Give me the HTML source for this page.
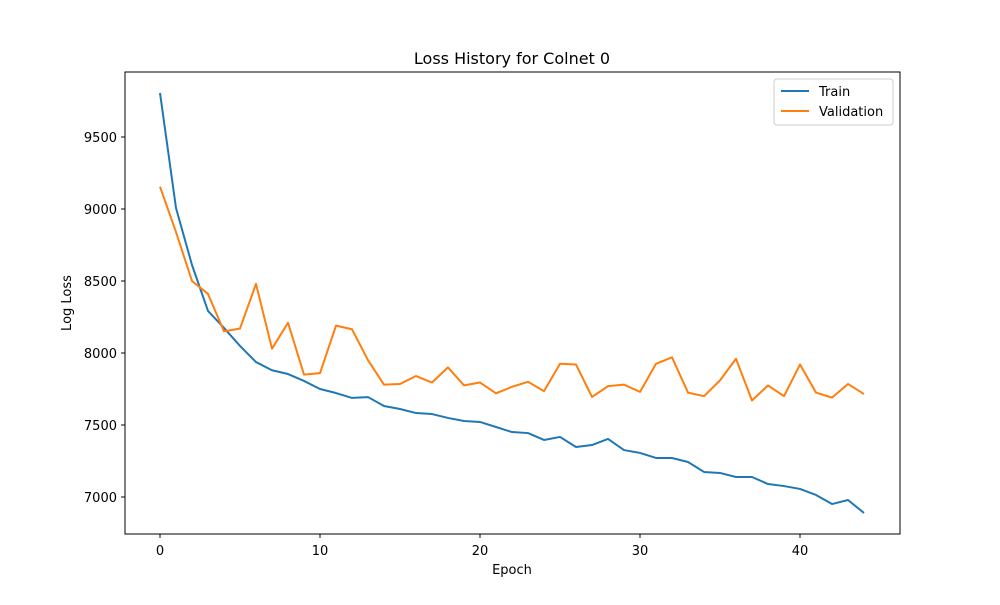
<!DOCTYPE html>
<html><head><meta charset="utf-8"><style>
body{margin:0;background:#fff;font-family:"Liberation Sans","DejaVu Sans",sans-serif}
svg text{font-family:"DejaVu Sans","Liberation Sans",sans-serif;font-size:13px;fill:#000}
</style></head><body>
<svg id="chart" width="1000" height="600" xmlns="http://www.w3.org/2000/svg">
<rect width="1000" height="600" fill="#fff"/>
<text x="512" y="64" text-anchor="middle" style="font-size:16px">Loss History for Colnet 0</text>
<g id="grid"></g>
<g id="plot"></g>
<rect x="125" y="72" width="775" height="462" fill="none" stroke="#000" stroke-width="1"/>
<text x="512" y="574" text-anchor="middle">Epoch</text>
<text x="0" y="0" transform="translate(71,303) rotate(-90)" text-anchor="middle">Log Loss</text>
<g>
<rect x="774" y="79" width="119" height="46" fill="#fff" stroke="#ccc" rx="3"/>
<line x1="781" y1="91" x2="809" y2="91" stroke="#1f77b4" stroke-width="2"/>
<text x="819" y="96">Train</text>
<line x1="781" y1="111" x2="809" y2="111" stroke="#ff7f0e" stroke-width="2"/>
<text x="819" y="116">Validation</text>
</g>
</svg>
<script>
const trainLoss=[9806,9007,8611,8292,8174,8049,7937,7880,7854,7806,7750,7722,7688,7694,7632,7611,7583,7576,7549,7528,7521,7486,7451,7444,7396,7417,7347,7361,7403,7326,7306,7271,7271,7243,7174,7167,7139,7139,7090,7076,7056,7014,6951,6979,6889];
const valLoss=[9155,8840,8500,8410,8150,8170,8480,8030,8210,7850,7860,8190,8165,7950,7780,7785,7840,7795,7900,7775,7795,7720,7765,7800,7735,7925,7920,7695,7770,7780,7730,7925,7970,7725,7700,7810,7960,7670,7775,7700,7920,7725,7690,7785,7715];
const xTicks=[0,10,20,30,40];
const yTicks=[7000,7500,8000,8500,9000,9500];
const X=v=>160+v*16;
const Y=v=>497-(v-7000)*0.144;
const NS="http://www.w3.org/2000/svg";
const svg=document.getElementById('chart');
const grid=document.getElementById('grid');
const plot=document.getElementById('plot');
function mk(t,a,p){const e=document.createElementNS(NS,t);for(const k in a)e.setAttribute(k,a[k]);p.appendChild(e);return e;}
xTicks.forEach(t=>{
 const l=mk('line',{x1:X(t),x2:X(t),y1:534,y2:538,stroke:'#000'},grid);
 
 
 const tx=mk('text',{x:X(t),y:555,'text-anchor':'middle'},grid);tx.textContent=t;
 
 
});
yTicks.forEach(t=>{
 const l=mk('line',{x1:121,x2:125,y1:Y(t),y2:Y(t),stroke:'#000'},grid);
 
 
 const tx=mk('text',{x:117,y:Y(t)+5,'text-anchor':'end'},grid);tx.textContent=t;
 
 
});
function line(d,c,n){
 const p=mk('polyline',{points:d.map((v,i)=>X(i)+','+Y(v)).join(' '),fill:'none',stroke:c,'stroke-width':2,'stroke-linejoin':'round'},plot);
 
 
}
line(trainLoss,'#1f77b4','train-line');
line(valLoss,'#ff7f0e','validation-line');
</script>
</body></html>
